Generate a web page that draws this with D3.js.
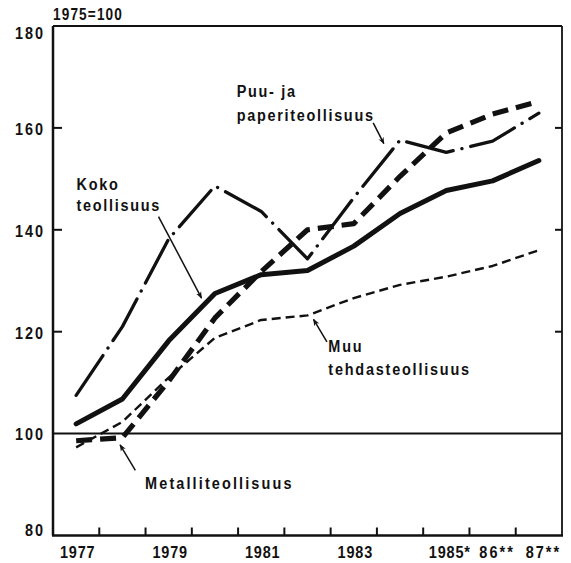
<!DOCTYPE html>
<html><head><meta charset="utf-8">
<script src="https://cdn.jsdelivr.net/npm/d3@7"></script>
<style>
body{margin:0;background:#fff}
text{font-family:"Liberation Sans Narrow","Arial Narrow","Liberation Sans",Arial,sans-serif;font-weight:bold;fill:#111}
</style></head><body>
<svg id="c" width="571" height="563"></svg>
<script>
// ---- data ----
const years = [1977,1978,1979,1980,1981,1982,1983,1984,1985,1986,1987];
const xTickLabels = ["1977","","1979","","1981","","1983","","1985*","86**","87**"];
const yTicks = [80,100,120,140,160,180];
const indexLabel = "1975=100";
const koko    = [101.9,106.8,118.2,127.5,131.2,132.0,136.8,143.2,147.7,149.6,153.6];
const puu     = [107.5,121.0,138.2,148.6,143.6,134.3,146.3,157.6,155.2,157.4,162.9];
const metalli = [98.6, 99.2, 110.3,122.7,131.8,140.0,141.2,150.5,159.0,162.7,165.2];
const muu     = [97.3, 102.3,111.0,118.8,122.3,123.2,126.6,129.2,130.8,132.9,136.0];
const seriesNames = ["Koko teollisuus","Puu- ja paperiteollisuus","Metalliteollisuus","Muu tehdasteollisuus"];

// annotations in data coordinates (year index, value)
const annotations = [
  {lines:["Koko","teollisuus"], x:0.01, y:[147.8,143.6], ls:2, arrow:[[1.78,142.6],[2.71,126.6]]},
  {lines:["Puu- ja","paperiteollisuus"], x:3.47, y:[166.0,161.4], ls:2, arrow:[[6.42,161.0],[6.65,156.9]]},
  {lines:["Muu","tehdasteollisuus"], x:5.45, y:[116.1,111.5], ls:2.1, arrow:[[5.42,118.0],[5.13,122.4]]},
  {lines:["Metalliteollisuus"], x:1.49, y:[89.1], ls:2.5, arrow:[[1.28,92.8],[0.95,97.8]]}
];

// ---- layout ----
const svg = d3.select("#c");
const L = 53, R = 562, T = 26, B = 535.5;
const SX = 0.85; // condensed look
const x = d3.scaleBand().domain(years).range([L,R]).padding(0);
const xc = d => x(d) + x.bandwidth()/2;
const xi = d3.scaleLinear().domain([0,1]).range([xc(years[0]), xc(years[1])]);
const y = d3.scaleLinear().domain([80,180]).range([B,T]);

function label(px, py, str, size, ls, anchor){
  return svg.append("text").attr("transform",`translate(${px},${py}) scale(${SX},1)`)
    .attr("font-size",size).attr("letter-spacing",ls).attr("text-anchor",anchor||"start").text(str);
}

const defs = svg.append("defs");
defs.append("marker").attr("id","ah").attr("viewBox","0 0 10 10").attr("refX",9).attr("refY",5)
  .attr("markerWidth",7).attr("markerHeight",7).attr("orient","auto").attr("markerUnits","userSpaceOnUse")
  .append("path").attr("d","M0,1 L10,5 L0,9 L3,5 Z").attr("fill","#111");

// reference line at 100
svg.append("line").attr("x1",L).attr("x2",R).attr("y1",y(100)).attr("y2",y(100))
  .attr("stroke","#111").attr("stroke-width",2);

const line = d3.line().x((d,i)=>xc(years[i])).y(d=>y(d));
const styles = [
  {data:koko, w:5, dash:null, cap:"round"},
  {data:puu, w:3.3, dash:"48,9,0.1,9", cap:"round"},
  {data:metalli, w:5.2, dash:"16,8", cap:"butt"},
  {data:muu, w:2.4, dash:"9,5", cap:"butt"}
];
styles.forEach(s=>{
  svg.append("path").datum(s.data).attr("d",line).attr("fill","none")
    .attr("stroke","#111").attr("stroke-width",s.w).attr("stroke-linejoin","round")
    .attr("stroke-linecap",s.cap).attr("stroke-dasharray",s.dash);
});

// x tick labels (band centres) and ticks at band boundaries
years.forEach((yr,i)=>{
  const t = xTickLabels[i];
  if(!t) return;
  const star = t.includes("*");
  const off = t==="1985*"?3.5:(star?4.5:1.5);
  label(xc(yr)+off, 558, t, 17, star&&t.length===4?2.4:1, "middle");
});
const bounds = years.slice(1).map(d=>x(d));
svg.selectAll(".xt").data(bounds).join("line").attr("x1",d=>d).attr("x2",d=>d)
  .attr("y1",B).attr("y2",B-8).attr("stroke","#111").attr("stroke-width",2);

// y tick labels
yTicks.forEach(v=>{
  const py = v===180 ? y(v)+12.5 : (v===80 ? y(v) : y(v)+6.8);
  label(45, py, String(v), 17, 2.3, "end");
});
const innerT = [120,140,160];
svg.selectAll(".yl").data(innerT).join("line").attr("x1",L).attr("x2",L+9)
  .attr("y1",d=>y(d)).attr("y2",d=>y(d)).attr("stroke","#111").attr("stroke-width",2);
svg.selectAll(".yr").data(innerT).join("line").attr("x1",R).attr("x2",R-7)
  .attr("y1",d=>y(d)).attr("y2",d=>y(d)).attr("stroke","#111").attr("stroke-width",2);

// frame
svg.append("line").attr("x1",L).attr("x2",L).attr("y1",T).attr("y2",B).attr("stroke","#111").attr("stroke-width",2.5);
svg.append("line").attr("x1",L-1).attr("x2",R+1).attr("y1",B).attr("y2",B).attr("stroke","#111").attr("stroke-width",2.5);
svg.append("line").attr("x1",L).attr("x2",R).attr("y1",T).attr("y2",T).attr("stroke","#111").attr("stroke-width",2);
svg.append("line").attr("x1",R).attr("x2",R).attr("y1",T).attr("y2",B).attr("stroke","#111").attr("stroke-width",1.8);

label(L, 20, indexLabel, 16, 1.35, "start");

// annotations
annotations.forEach(a=>{
  a.lines.forEach((t,i)=> label(xi(a.x), y(a.y[i]), t, 17, a.ls, "start"));
  svg.append("line").attr("x1",xi(a.arrow[0][0])).attr("y1",y(a.arrow[0][1]))
    .attr("x2",xi(a.arrow[1][0])).attr("y2",y(a.arrow[1][1]))
    .attr("stroke","#111").attr("stroke-width",1.5).attr("marker-end","url(#ah)");
});
</script></body></html>
